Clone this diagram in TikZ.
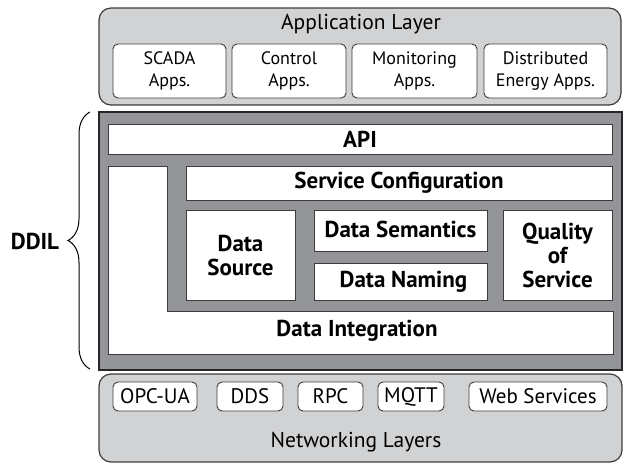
\documentclass[tikz,border=0pt]{standalone}
\usepackage{fontspec}
\setmainfont{PT Sans}
\usetikzlibrary{decorations.pathreplacing}
\definecolor{lightg}{HTML}{D1D2D4}
\definecolor{darkg}{HTML}{939598}
\definecolor{edge}{HTML}{3C3C3C}
\tikzset{
  layer/.style={draw=edge, line width=1.2pt, fill=lightg, rounded corners=12pt},
  appbox/.style={draw=edge, line width=0.9pt, fill=white, rounded corners=5pt, align=center, font=\fontsize{18}{22}\selectfont, inner sep=0pt},
  netbox/.style={appbox, font=\fontsize{21}{24}\selectfont},
  wbox/.style={draw=edge, line width=0.9pt, fill=white, align=center, font=\fontsize{23}{24}\selectfont\bfseries, inner sep=0pt},
  plain/.style={font=\fontsize{21.5}{24}\selectfont, inner sep=0pt},
  boldtxt/.style={font=\fontsize{23}{24}\selectfont\bfseries, inner sep=0pt},
}
\begin{document}
\begin{tikzpicture}[x=1pt,y=-1pt]
\useasboundingbox (0,0) rectangle (624,464);
% Application layer
\node[layer, minimum width=522pt, minimum height=97pt] (app) at (360,56.5) {};
\node[plain] (apptitle) at (361,24) {Application Layer};
\node[appbox, minimum width=113pt, minimum height=54pt] (scada) at (169.5,71) {SCADA\\Apps.};
\node[appbox, minimum width=114pt, minimum height=54pt] (control) at (289,71) {Control\\Apps.};
\node[appbox, minimum width=125pt, minimum height=54pt] (monit) at (414.5,71) {Monitoring\\Apps.};
\node[appbox, minimum width=123pt, minimum height=54pt] (dist) at (545.5,71) {Distributed\\Energy Apps.};
% DDIL block
\node[draw=black!85, line width=2pt, fill=darkg, minimum width=523pt, minimum height=258pt] (ddil) at (360.5,241) {};
\node[wbox, minimum width=504pt, minimum height=30pt] (api) at (360,139) {API};
\draw[draw=edge, line width=0.9pt, fill=white] (108,166) -- (167,166) -- (167,311) -- (613,311) -- (613,354) -- (108,354) -- cycle;
\node[boldtxt] (integ) at (357,331) {Data Integration};
\node[wbox, minimum width=426pt, minimum height=34pt] (svc) at (399,183) {Service Configuration};
\node[wbox, minimum width=109pt, minimum height=90pt] (src) at (240.5,255) {Data\\Source};
\node[wbox, minimum width=173pt, minimum height=41pt, text depth=2pt] (sem) at (400.5,230.5) {Data Semantics};
\node[wbox, minimum width=173pt, minimum height=37pt] (nam) at (400.5,281.5) {\hspace*{6pt}Data Naming};
\node[wbox, minimum width=109pt, minimum height=90pt] (qos) at (557.5,255) {Quality\\of\\Service};
% Networking layers
\node[layer, minimum width=523pt, minimum height=88pt] (net) at (360.5,418) {};
\node[plain] (nettitle) at (356,442) {Networking Layers};
\node[netbox, minimum width=84pt, minimum height=29pt] (opc) at (155,396.5) {OPC-UA};
\node[netbox, minimum width=66pt, minimum height=29pt] (dds) at (250,396.5) {DDS};
\node[netbox, minimum width=65pt, minimum height=29pt] (rpc) at (330.5,396.5) {RPC};
\node[netbox, minimum width=66pt, minimum height=29pt] (mqtt) at (411,396.5) {MQTT};
\node[netbox, minimum width=138pt, minimum height=29pt] (web) at (538,396.5) {Web Services};
% Brace
\coordinate (bb) at (90,369);
\coordinate (bt) at (90,112);
\draw[line width=1pt, decorate, decoration={brace, amplitude=22pt}] (bb) -- (bt);
\node[boldtxt] (ddiltxt) at (35,241) {DDIL};
\end{tikzpicture}
\end{document}
